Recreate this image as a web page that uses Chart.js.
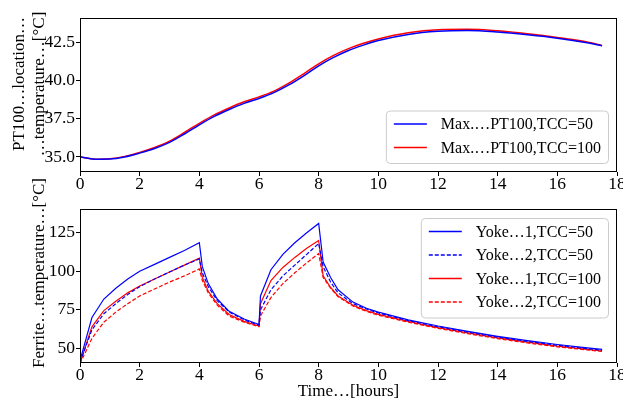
<!DOCTYPE html>
<html>
<head>
<meta charset="utf-8">
<script src="https://cdn.jsdelivr.net/npm/chart.js@4.4.1/dist/chart.umd.min.js"></script>
<style>
  html, body { margin: 0; padding: 0; background: #fff; }
  #wrap { position: relative; width: 623px; height: 401px; }
  #wrap canvas { position: absolute; left: 0; top: 0; }
</style>
</head>
<body>
<div id="wrap">
  <canvas id="yokeChart" width="623" height="401"></canvas>
  <canvas id="pt100Chart" width="623" height="401"></canvas>
</div>
<script>
// === данные ===
const xTicks = [0, 2, 4, 6, 8, 10, 12, 14, 16, 18];
const pt100Ticks = [35, 37.5, 40, 42.5];
const yokeTicks = [50, 75, 100, 125];

// верхний график: макс. температура PT100
const pt100Hours = [0, 0.5, 1, 1.5, 2, 2.5, 3, 3.5, 4, 4.5, 5, 5.5, 6, 6.5, 7, 7.5, 8, 8.5, 9, 9.5, 10, 11, 12, 13, 14, 15, 16, 17, 17.5];
const pt100Cc50 = [35.0, 34.86, 34.87, 35.0, 35.25, 35.55, 35.95, 36.5, 37.1, 37.65, 38.1, 38.5, 38.82, 39.2, 39.7, 40.3, 40.95, 41.5, 41.95, 42.3, 42.6, 43.0, 43.2, 43.25, 43.15, 42.97, 42.75, 42.45, 42.25];
const pt100Cc100 = [35.0, 34.86, 34.89, 35.04, 35.3, 35.62, 36.03, 36.6, 37.2, 37.75, 38.2, 38.6, 38.92, 39.3, 39.82, 40.43, 41.08, 41.63, 42.07, 42.42, 42.7, 43.1, 43.3, 43.33, 43.23, 43.04, 42.8, 42.5, 42.28];
const pt100Labels = ["Max.…PT100,TCC=50", "Max.…PT100,TCC=100"];

// нижний график: температура феррита
const yokeHours = [0, 0.4, 0.8, 1.2, 1.6, 2, 2.5, 3, 3.5, 4, 4.1, 4.3, 4.6, 5, 5.5, 6, 6.05, 6.4, 6.8, 7.2, 7.6, 8, 8.15, 8.4, 8.65, 9.15, 9.6, 10, 11, 12, 13, 14, 15, 16, 17, 17.5];
const yoke1Cc50 = [42, 70, 82, 89, 95, 100, 104.5, 109, 113.5, 118.5, 103, 92, 82, 74, 69, 65.5, 84, 101, 111, 118.5, 125, 131, 106, 96, 88, 80, 76, 73.5, 68.5, 64.5, 61, 57.8, 55, 52.5, 50.3, 49.3];
const yoke2Cc50 = [41, 62, 72.5, 79, 85, 90, 95, 99.5, 104, 108, 99, 90, 81, 73.5, 68.5, 65, 75, 88, 97, 104, 111, 118, 103, 93, 86, 79, 75.5, 73, 68, 64, 60.5, 57.3, 54.5, 52, 49.8, 48.8];
const yoke1Cc100 = [40.5, 64, 74.5, 80.5, 86, 90.5, 95, 99.5, 104, 108.5, 96, 87, 79, 72, 67.5, 64.5, 79, 94, 102.5, 109, 115, 120, 97, 89.5, 84, 78, 74.5, 72, 67.5, 63.5, 60, 56.8, 54, 51.5, 49.3, 48.3];
const yoke2Cc100 = [40, 56.5, 67, 73.5, 79, 84, 88.5, 93, 97, 101.5, 94, 86, 78, 71, 67, 64, 71, 83, 92, 99, 105.5, 111.5, 96, 89, 83.5, 77.5, 74, 71.5, 67, 63, 59.5, 56.3, 53.5, 51, 49, 48];
const yokeLabels = ["Yoke…1,TCC=50", "Yoke…2,TCC=50", "Yoke…1,TCC=100", "Yoke…2,TCC=100"];

const FONT = "'Liberation Serif', 'Times New Roman', serif";

function toPoints(xs, ys) {
  return xs.map((x, i) => ({ x, y: ys[i] }));
}

// рамка, подпись оси Y и легенда внутри области (как в matplotlib)
const framePlugin = {
  id: "frame",
  afterDraw(chart, args, opts) {
    const { ctx, chartArea: a } = chart;
    ctx.save();
    ctx.strokeStyle = "#000";
    ctx.lineWidth = 1;
    ctx.strokeRect(a.left + 0.5, a.top + 0.5, a.right - a.left - 1, a.bottom - a.top - 1);

    // подпись оси Y (повёрнутая)
    ctx.fillStyle = "#000";
    ctx.font = "17px " + FONT;
    ctx.textAlign = "center";
    ctx.textBaseline = "middle";
    opts.yTitle.forEach((line, i) => {
      ctx.save();
      ctx.translate(opts.yTitleX[i], opts.yTitleY);
      ctx.rotate(-Math.PI / 2);
      ctx.fillText(line, 0, 0);
      ctx.restore();
    });

    // легенда
    const sets = chart.data.datasets;
    ctx.font = "16px " + FONT;
    const textW = Math.max(...sets.map(d => ctx.measureText(d.label).width));
    const rowH = 23.5;
    const w = 8 + 33 + 14 + textW + 7;
    const h = 13.5 + (sets.length - 1) * rowH + 15.5;
    const x0 = a.right - 9 - w;
    const y0 = opts.corner === "top" ? a.top + 9 : a.bottom - 9 - h;

    ctx.beginPath();
    ctx.roundRect(x0 + 0.5, y0 + 0.5, w, h, 4);
    ctx.fillStyle = "rgba(255,255,255,0.8)";
    ctx.fill();
    ctx.strokeStyle = "#cccccc";
    ctx.stroke();

    sets.forEach((d, i) => {
      const cy = y0 + 13.5 + i * rowH;
      ctx.beginPath();
      ctx.setLineDash(d.borderDash || []);
      ctx.strokeStyle = d.borderColor;
      ctx.lineWidth = 1.5;
      ctx.moveTo(x0 + 8, cy);
      ctx.lineTo(x0 + 41, cy);
      ctx.stroke();
      ctx.setLineDash([]);
      ctx.fillStyle = "#000";
      ctx.textBaseline = "middle";
      ctx.textAlign = "left";
      ctx.fillText(d.label, x0 + 55, cy + 1);
    });
    ctx.restore();
  }
};

function makeChart(canvasId, cfg) {
  const ctx = document.getElementById(canvasId).getContext("2d");
  return new Chart(ctx, {
    type: "line",
    data: { datasets: cfg.datasets },
    options: {
      responsive: false,
      animation: false,
      layout: { padding: { left: 0, right: 6, top: cfg.padTop, bottom: cfg.padBottom } },
      plugins: {
        legend: { display: false },
        tooltip: { enabled: false },
        frame: { corner: cfg.legendCorner, yTitle: cfg.yTitle, yTitleX: cfg.yTitleX, yTitleY: cfg.yTitleY }
      },
      elements: { point: { radius: 0 } },
      scales: {
        x: {
          type: "linear",
          min: 0,
          max: 18,
          afterBuildTicks: s => { s.ticks = xTicks.map(v => ({ value: v })); },
          afterFit: s => { s.height = cfg.xHeight; s.paddingLeft = 0; s.paddingRight = 0; },
          grid: { drawOnChartArea: false, drawTicks: true, tickLength: 4, tickColor: "#000" },
          border: { display: false },
          ticks: { color: "#000", padding: -2, maxRotation: 0, font: { family: FONT, size: 17.5 } },
          title: {
            display: !!cfg.xTitle,
            text: cfg.xTitle || "",
            color: "#000",
            padding: 0,
            font: { family: FONT, size: 17, lineHeight: 1.1 }
          }
        },
        y: {
          min: cfg.yMin,
          max: cfg.yMax,
          afterBuildTicks: s => { s.ticks = cfg.yTicks.map(v => ({ value: v })); },
          afterFit: s => { s.width = 80; s.paddingTop = 0; s.paddingBottom = 0; },
          grid: { drawOnChartArea: false, drawTicks: true, tickLength: 4, tickColor: "#000" },
          border: { display: false },
          ticks: {
            color: "#000",
            padding: 1,
            font: { family: FONT, size: 17.5 },
            callback: v => cfg.yFmt(v)
          },
          title: { display: false }
        }
      }
    },
    plugins: [framePlugin]
  });
}

makeChart("pt100Chart", {
  padTop: 18,
  padBottom: 201,
  xHeight: 28,
  yMin: 34.02,
  yMax: 44.07,
  yTicks: pt100Ticks,
  yFmt: v => v.toFixed(1),
  yTitle: ["PT100…location…", "…temperature…[°C]"],
  yTitleX: [20, 39.5],
  yTitleY: 84,
  legendCorner: "bottom",
  datasets: [
    { label: pt100Labels[0], data: toPoints(pt100Hours, pt100Cc50), borderColor: "#0000ff", borderWidth: 1.5, tension: 0.4, cubicInterpolationMode: "monotone", fill: false },
    { label: pt100Labels[1], data: toPoints(pt100Hours, pt100Cc100), borderColor: "#ff0000", borderWidth: 1.5, tension: 0.4, cubicInterpolationMode: "monotone", fill: false }
  ]
});

makeChart("yokeChart", {
  padTop: 209,
  padBottom: 0,
  xHeight: 38,
  xTitle: "Time…[hours]",
  yMin: 40.5,
  yMax: 140.4,
  yTicks: yokeTicks,
  yFmt: v => String(v),
  yTitle: ["Ferrite…temperature…[°C]"],
  yTitleX: [40],
  yTitleY: 273,
  legendCorner: "top",
  datasets: [
    { label: yokeLabels[0], data: toPoints(yokeHours, yoke1Cc50), borderColor: "#0000ff", borderWidth: 1.2, tension: 0, fill: false },
    { label: yokeLabels[1], data: toPoints(yokeHours, yoke2Cc50), borderColor: "#0000ff", borderWidth: 1.2, borderDash: [4, 2], tension: 0, fill: false },
    { label: yokeLabels[2], data: toPoints(yokeHours, yoke1Cc100), borderColor: "#ff0000", borderWidth: 1.2, tension: 0, fill: false },
    { label: yokeLabels[3], data: toPoints(yokeHours, yoke2Cc100), borderColor: "#ff0000", borderWidth: 1.2, borderDash: [4, 2], tension: 0, fill: false }
  ]
});
</script>
</body>
</html>
